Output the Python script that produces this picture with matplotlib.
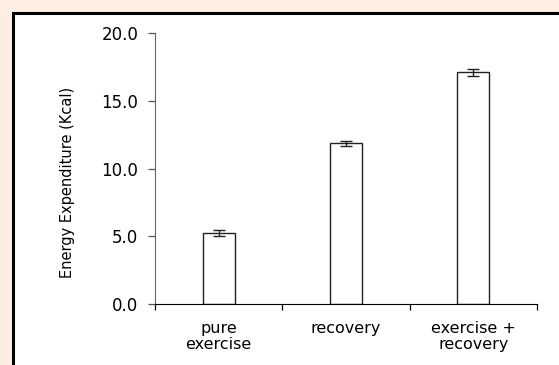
import matplotlib
matplotlib.use("Agg")
import matplotlib.pyplot as plt
from matplotlib.patches import Rectangle

categories = ["pure\nexercise", "recovery", "exercise +\nrecovery"]
values = [5.25, 11.85, 17.1]
errors = [0.22, 0.2, 0.28]
yticks = [0.0, 5.0, 10.0, 15.0, 20.0]

plt.rcParams["font.family"] = ["DejaVu Sans"]

fig = plt.figure(figsize=(5.59, 3.65), dpi=100)
fig.patch.set_facecolor("#fdede3")

# white panel with black border (runs off right/bottom edge)
W, H = 559, 365
frame = Rectangle((13 / W, -0.05), 1.1, (H - 13) / H + 0.05, transform=fig.transFigure,
                  facecolor="white", edgecolor="black", linewidth=2.2, zorder=-5)
fig.patches.append(frame)

ax = fig.add_axes([155 / W, 1 - 304 / H, (537 - 155) / W, (304 - 33) / H])
ax.set_facecolor("none")
ax.set_zorder(1)

x = list(range(len(categories)))
ax.bar(x, values, width=0.25, color="white", edgecolor="#222222", linewidth=1.0,
       yerr=errors, capsize=4,
       error_kw=dict(ecolor="#222222", elinewidth=1.0, capthick=1.0))

ax.set_xlim(-0.5, 2.5)
ax.set_ylim(0, 20)
ax.set_yticks(yticks)
ax.set_yticklabels([f"{v:.1f}" for v in yticks], fontsize=12)
ax.set_xticks(x)
ax.set_xticklabels(categories, fontsize=11.5, linespacing=1.15)
ax.set_xticks([-0.5, 0.5, 1.5, 2.5], minor=True)
ax.tick_params(axis="x", which="major", length=0, pad=12)
ax.tick_params(axis="x", which="minor", length=4, width=0.9)
ax.tick_params(axis="y", length=5, width=0.9, color="#555555", pad=7)

ax.set_ylabel("Energy Expenditure (Kcal)", fontsize=10.5)
ax.yaxis.set_label_coords((75 - 155) / 382, (304 - 182) / 271)

for side in ["top", "right"]:
    ax.spines[side].set_visible(False)
ax.spines["left"].set_color("#666666")
ax.spines["bottom"].set_color("black")

fig.savefig("out.png", dpi=100, facecolor=fig.get_facecolor())
